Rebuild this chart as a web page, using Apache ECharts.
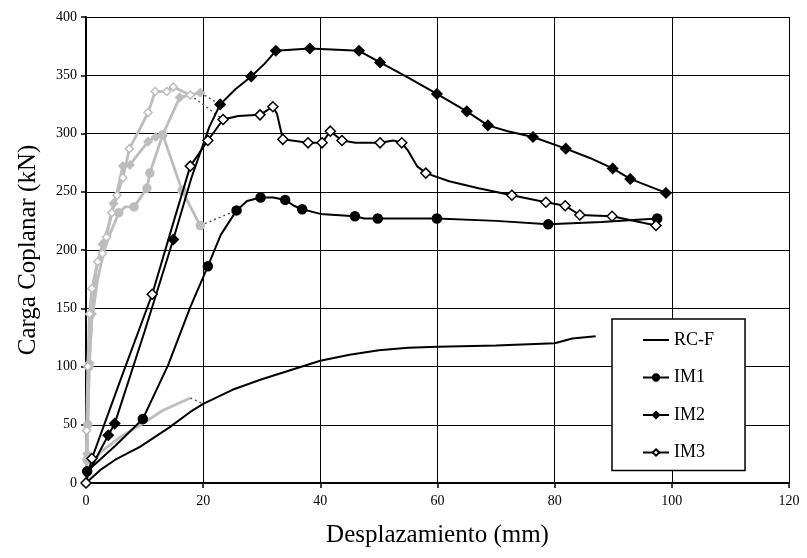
<!DOCTYPE html>
<html>
<head>
<meta charset="utf-8">
<script src="https://cdn.jsdelivr.net/npm/echarts@6/dist/echarts.min.js"></script>
<style>
html, body { margin: 0; padding: 0; background: #fff; }
#chart { width: 807px; height: 558px; }
</style>
</head>
<body>
<div id="chart"></div>
<script>
// RC-F (solid, no markers) and its earlier grey stage
var rcfX = [0, 2.4, 5, 9.2, 14.3, 17.8, 20, 25, 30, 35, 40, 45, 50, 55, 60, 70, 80, 83, 87];
var rcfY = [0, 11, 20, 31, 48, 61, 68, 80, 89, 97, 105, 110, 114, 116, 117, 118, 120, 124, 126];
var rcfGrayX = [0, 0.5, 2.4, 6, 9.7, 13, 17.8];
var rcfGrayY = [0, 12, 26, 40, 51, 62, 73];

// IM1 (filled circles)
var im1X = [0.2, 5, 9.7, 14, 17.8, 20.8, 23, 25.7, 27.5, 29.8, 32, 34, 35.5, 36.9, 40, 45.9, 47.5, 49.8, 55, 59.9, 70, 78.9, 88, 97.5];
var im1Y = [10, 32, 55, 101, 151, 186, 213, 234, 242, 245, 245, 243, 238, 235, 231, 229, 227, 227, 227, 227, 225, 222, 224, 227];
var im1Mark = [1, 0, 1, 0, 0, 1, 0, 1, 0, 1, 0, 1, 0, 1, 0, 1, 0, 1, 0, 1, 0, 1, 0, 1];
var im1GrayX = [0, 0.2, 0.3, 0.5, 1, 2, 3, 4.2, 5.6, 6.7, 8.2, 10.4, 10.9, 13.1, 16.4, 19.5];
var im1GrayY = [0, 20, 50, 100, 140, 175, 198, 215, 232, 237, 237, 253, 266, 299, 251, 221];
var im1GrayMark = [1, 1, 1, 1, 0, 0, 0, 0, 1, 0, 1, 1, 1, 1, 1, 1];

// IM2 (filled diamonds)
var im2X = [0, 3.8, 4.9, 10, 14.9, 18, 21, 22.9, 25.5, 28.2, 30.5, 32.4, 38.2, 46.6, 50.2, 55, 59.9, 65, 68.6, 72, 76.3, 81.9, 86, 89.9, 92.9, 99];
var im2Y = [5, 41, 51, 130, 209, 262, 305, 325, 338, 349, 360, 371, 373, 371, 361, 348, 334, 319, 307, 302, 297, 287, 279, 270, 261, 249];
var im2Mark = [0, 1, 1, 0, 1, 0, 0, 1, 0, 1, 0, 1, 1, 1, 1, 0, 1, 1, 1, 0, 1, 1, 0, 1, 1, 1];
var im2GrayX = [0, 0.2, 0.3, 0.6, 1, 1.8, 2.8, 3.8, 4.7, 5.3, 6.3, 7.5, 9, 10.6, 11.9, 13.1, 16, 19.5];
var im2GrayY = [0, 25, 50, 103, 145, 185, 205, 220, 240, 250, 272, 273, 283, 293, 297, 299, 331, 335];
var im2GrayMark = [0, 1, 0, 1, 1, 0, 1, 0, 1, 0, 1, 1, 0, 1, 1, 0, 1, 1];

// IM3 (open diamonds)
var im3X = [0, 1, 6, 11.3, 15, 17.8, 20.8, 23.4, 26, 29.7, 31.9, 32.6, 33.6, 37.9, 40.3, 41.7, 43.7, 46, 50.2, 52.5, 53.9, 55, 56.5, 58, 62, 67, 72.7, 78.5, 81.8, 84.3, 89.8, 97.3];
var im3Y = [0, 21, 90, 162, 225, 272, 294, 312, 315, 316, 323, 317, 295, 292, 292, 302, 294, 292, 292, 294, 292, 285, 272, 266, 259, 253, 247, 241, 238, 230, 229, 221];
var im3Mark = [1, 1, 0, 1, 0, 1, 1, 1, 0, 1, 1, 0, 1, 1, 1, 1, 1, 0, 1, 0, 1, 0, 0, 1, 0, 0, 1, 1, 1, 1, 1, 1];
var im3GrayX = [0, 0.1, 0.3, 0.6, 1, 2, 2.8, 3.5, 4.4, 5.3, 6.3, 7.4, 9, 10.6, 11.8, 13.8, 14.9, 17.8];
var im3GrayY = [0, 45, 100, 145, 167, 190, 197, 211, 232, 247, 262, 287, 302, 318, 336, 336, 340, 333];
var im3GrayMark = [1, 1, 1, 1, 1, 1, 1, 1, 1, 1, 1, 1, 0, 1, 1, 1, 1, 1];

var serif = 'Liberation Serif';
var gray = '#bdbdbd';

function pts(xs, ys, marks) {
  return xs.map(function (x, i) {
    if (marks && marks[i]) return [x, ys[i]];
    return { value: [x, ys[i]], symbol: 'none' };
  });
}

// dotted link from end of grey stage to a point of the black curve
function link(gx, gy, bx, by, j) {
  var n = gx.length - 1;
  return {
    type: 'line', name: 'link', silent: true, symbol: 'none',
    lineStyle: { color: '#555', width: 1.5, type: [2, 3] },
    data: [[gx[n], gy[n]], [bx[j], by[j]]], z: 1
  };
}

function grayLine(name, xs, ys, marks, symbol, fill) {
  return {
    type: 'line', name: name, data: pts(xs, ys, marks),
    symbol: symbol, symbolSize: 8, showAllSymbol: true,
    lineStyle: { color: gray, width: 2.8 },
    itemStyle: { color: fill, borderColor: gray, borderWidth: 1.5 },
    z: 2
  };
}

function blackLine(name, xs, ys, marks, symbol, size, fill) {
  return {
    type: 'line', name: name, data: pts(xs, ys, marks),
    symbol: symbol, symbolSize: size, showAllSymbol: true,
    lineStyle: { color: '#000', width: 2 },
    itemStyle: { color: fill, borderColor: '#000', borderWidth: 1.5 },
    z: 3
  };
}

var chart = echarts.init(document.getElementById('chart'));

var option = {
  animation: false,
  backgroundColor: '#fff',
  grid: { left: 86, right: 18, top: 17, bottom: 75 },
  xAxis: {
    type: 'value', min: 0, max: 120, interval: 20,
    name: 'Desplazamiento (mm)', nameLocation: 'middle', nameGap: 40,
    nameTextStyle: { fontFamily: serif, fontSize: 25, color: '#000' },
    axisLine: { show: true, lineStyle: { color: '#000', width: 2 } },
    axisTick: { show: true, length: 5, lineStyle: { color: '#000', width: 1.5 } },
    axisLabel: { fontFamily: serif, fontSize: 14, color: '#000', margin: 11 },
    splitLine: { show: true, lineStyle: { color: '#000', width: 1 } }
  },
  yAxis: {
    type: 'value', min: 0, max: 400, interval: 50,
    name: 'Carga Coplanar (kN)', nameLocation: 'middle', nameGap: 45,
    nameTextStyle: { fontFamily: serif, fontSize: 25, color: '#000' },
    axisLine: { show: true, lineStyle: { color: '#000', width: 2 } },
    axisTick: { show: true, length: 5, lineStyle: { color: '#000', width: 1.5 } },
    axisLabel: { fontFamily: serif, fontSize: 14, color: '#000', margin: 9 },
    splitLine: { show: true, lineStyle: { color: '#000', width: 1 } }
  },
  legend: {
    data: [
      { name: 'RC-F', itemStyle: { opacity: 0 } },
      { name: 'IM1' }, { name: 'IM2' }, { name: 'IM3' }
    ],
    orient: 'vertical', left: 612, top: 319,
    padding: [12, 31, 9, 30], itemGap: 19.5,
    itemWidth: 26, itemHeight: 8,
    backgroundColor: '#fff', borderColor: '#000', borderWidth: 1.5,
    textStyle: { fontFamily: serif, fontSize: 18, color: '#000' }
  },
  series: [
    grayLine('gRCF', rcfGrayX, rcfGrayY, null, 'none', gray),
    grayLine('gIM1', im1GrayX, im1GrayY, im1GrayMark, 'circle', gray),
    grayLine('gIM2', im2GrayX, im2GrayY, im2GrayMark, 'diamond', gray),
    grayLine('gIM3', im3GrayX, im3GrayY, im3GrayMark, 'diamond', '#fff'),
    link(rcfGrayX, rcfGrayY, rcfX, rcfY, 6),
    link(im1GrayX, im1GrayY, im1X, im1Y, 7),
    link(im2GrayX, im2GrayY, im2X, im2Y, 7),
    link(im3GrayX, im3GrayY, im3X, im3Y, 7),
    blackLine('RC-F', rcfX, rcfY, null, 'none', 0, '#000'),
    blackLine('IM1', im1X, im1Y, im1Mark, 'circle', 9, '#000'),
    blackLine('IM2', im2X, im2Y, im2Mark, 'diamond', 10, '#000'),
    blackLine('IM3', im3X, im3Y, im3Mark, 'diamond', 10, '#fff')
  ]
};

chart.setOption(option);
</script>
</body>
</html>
